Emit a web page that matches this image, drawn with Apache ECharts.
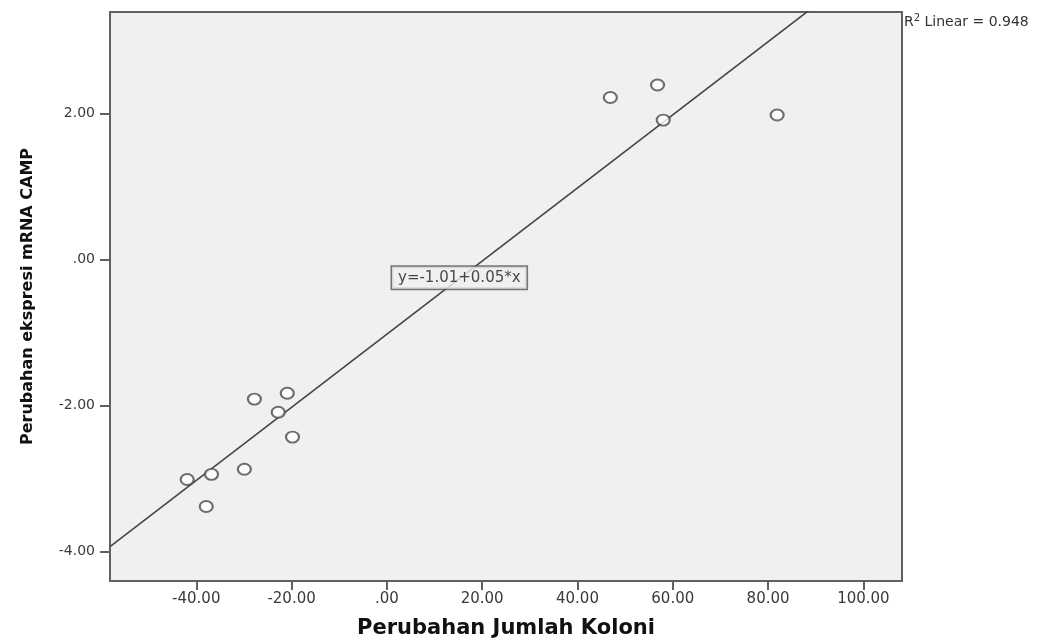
<!DOCTYPE html>
<html>
<head>
<meta charset="utf-8">
<script src="https://cdn.jsdelivr.net/npm/echarts@6/dist/echarts.min.js"></script>
<style>
html,body{margin:0;padding:0;background:#fff;}
#chart{width:1057px;height:641px;}
</style>
</head>
<body>
<div id="chart"></div>
<script>
// Data
const koloniChange = [46.9, 56.8, 58.0, 81.9, -27.8, -20.9, -22.8, -19.8, -29.9, -36.8, -41.9, -37.9];
const mrnaChange   = [2.22, 2.39, 1.91, 1.98, -1.91, -1.83, -2.09, -2.43, -2.87, -2.94, -3.01, -3.38];
const xTicks = [-40, -20, 0, 20, 40, 60, 80, 100];
const yTicks = [-4, -2, 0, 2];
const xRange = [-58.1, 108.1];
const yRange = [-4.40, 3.39];
const equationText = 'y=-1.01+0.05*x';
const equationAt = [15.2, -0.25];
const r2Value = '0.948';
const xTitle = 'Perubahan Jumlah Koloni';
const yTitle = 'Perubahan ekspresi mRNA CAMP';

// least-squares fit of the read points
function fit(xs, ys) {
  const n = xs.length;
  const mx = xs.reduce((a, b) => a + b, 0) / n;
  const my = ys.reduce((a, b) => a + b, 0) / n;
  let sxy = 0, sxx = 0;
  for (let i = 0; i < n; i++) { sxy += (xs[i] - mx) * (ys[i] - my); sxx += (xs[i] - mx) ** 2; }
  const b = sxy / sxx;
  return { a: my - b * mx, b: b };
}
const reg = fit(koloniChange, mrnaChange);
const linePts = xRange.map(x => [x, reg.a + reg.b * x]);
const points = koloniChange.map((x, i) => [x, mrnaChange[i]]);

function fmt(v) {
  let s = Number(v).toFixed(2);
  if (s.startsWith('0.')) s = s.slice(1);
  else if (s.startsWith('-0.')) s = '-' + s.slice(2);
  return s;
}

const FONT = 'DejaVu Sans';
const chart = echarts.init(document.getElementById('chart'), null, { renderer: 'canvas' });
chart.setOption({
  backgroundColor: '#ffffff',
  animation: false,
  grid: {
    left: 110, right: 155, top: 12, bottom: 60,
    containLabel: false, outerBoundsMode: 'none',
    show: true, backgroundColor: '#f0f0f0', borderColor: '#606060', borderWidth: 2
  },
  xAxis: {
    type: 'value', min: xRange[0], max: xRange[1],
    name: xTitle, nameLocation: 'middle', nameGap: 37,
    nameTextStyle: { fontFamily: FONT, fontWeight: 'bold', fontSize: 21, color: '#111' },
    axisLine: { show: true, onZero: false, lineStyle: { color: '#606060', width: 2 } },
    axisTick: { show: true, length: 9, customValues: xTicks, lineStyle: { color: '#606060', width: 2 } },
    axisLabel: { customValues: xTicks, formatter: fmt, margin: 11, fontFamily: FONT, fontSize: 15, color: '#3a3a3a' },
    splitLine: { show: false }
  },
  yAxis: {
    type: 'value', min: yRange[0], max: yRange[1],
    name: yTitle, nameLocation: 'middle', nameGap: 74, nameRotate: 90,
    nameTextStyle: { fontFamily: FONT, fontWeight: 'bold', fontSize: 16, color: '#111' },
    axisLine: { show: true, onZero: false, lineStyle: { color: '#606060', width: 2 } },
    axisTick: { show: true, length: 10, customValues: yTicks, lineStyle: { color: '#606060', width: 2 } },
    axisLabel: { customValues: yTicks, formatter: fmt, margin: 15, fontFamily: FONT, fontSize: 14, color: '#3a3a3a' },
    splitLine: { show: false }
  },
  series: [
    {
      type: 'line', data: linePts, showSymbol: false, symbol: 'none', clip: true,
      lineStyle: { color: '#444', width: 1.6 }, z: 2
    },
    {
      type: 'scatter', data: points, symbol: 'circle', symbolSize: [13, 11],
      itemStyle: { color: '#ffffff', borderColor: '#4a4a4a', borderWidth: 2 }, z: 4
    },
    {
      type: 'scatter', data: [equationAt], symbolSize: 0, z: 5,
      label: {
        show: true, position: 'inside', formatter: equationText,
        fontFamily: FONT, fontSize: 15, color: '#1a1a1a',
        backgroundColor: '#f0f0f0', borderColor: '#555', borderWidth: 1.5,
        padding: [4, 6, 3, 6]
      },
      emphasis: { disabled: true }
    }
  ],
  graphic: [
    {
      type: 'text', left: 904, top: 13, z: 10,
      style: {
        text: 'R{s|2} Linear = ' + r2Value,
        font: '14px "DejaVu Sans"', fill: '#333',
        rich: { s: { fontSize: 10, fontFamily: FONT, fill: '#333', padding: [0, 0, 8, 0] } }
      }
    }
  ]
});
</script>
</body>
</html>
